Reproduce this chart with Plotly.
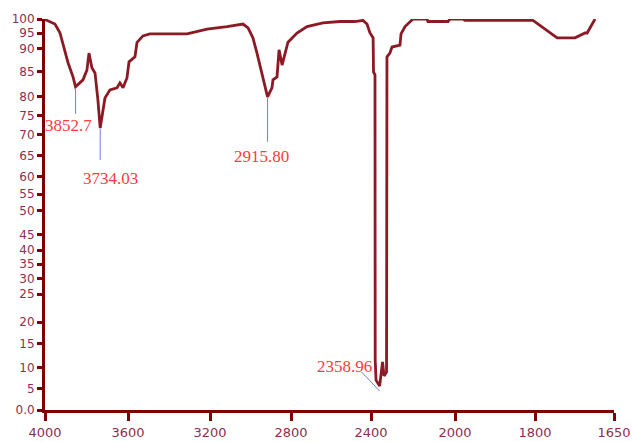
import numpy as np
import plotly.graph_objects as go

# FTIR transmittance spectrum
wavenumber = [4000, 3952, 3928, 3904, 3889, 3865, 3852.7, 3817, 3798, 3788, 3774, 3759, 3745,
              3734.03, 3720, 3711, 3687, 3653, 3639, 3624, 3605, 3595, 3566, 3556, 3527, 3493,
              3312, 3214, 3116, 3037, 3012, 2988, 2968, 2943, 2928, 2915.80, 2894, 2889, 2869,
              2859, 2844, 2830, 2815, 2770, 2720, 2640, 2555, 2480, 2440, 2420, 2405, 2390, 2388,
              2381, 2380, 2376, 2358.96, 2345, 2338, 2326, 2324, 2310, 2300, 2262, 2257, 2238,
              2200, 2133, 2129, 2033, 2024, 1980, 1975, 1805, 1790.5, 1775, 1758, 1724, 1715,
              1705, 1701, 1686]
transmittance = [99.8, 98.2, 95.1, 89.8, 87.0, 84.0, 82.0, 83.4, 85.4, 89.1, 85.9, 84.8, 79.2,
                 71.8, 76.6, 79.7, 81.4, 81.8, 82.8, 81.8, 83.8, 87.2, 88.3, 92.1, 94.1, 94.7,
                 94.7, 96.4, 97.3, 98.2, 96.8, 93.5, 89.1, 84.4, 81.8, 80.0, 81.8, 83.4, 84.0,
                 89.8, 86.5, 88.7, 92.1, 95.0, 97.3, 98.6, 99.1, 99.1, 99.5, 98.2, 95.0, 93.5, 85.0,
                 84.4, 11.7, 7.1, 5.7, 11.25, 8.1, 9.05, 88.3, 89.1, 90.6, 91.2, 94.7, 97.3,
                 100.0, 100.0, 99.1, 99.1, 100.0, 100.0, 99.5, 99.5, 97.7, 95.5, 93.5, 93.5, 94.1,
                 95.0, 95.0, 100.0]

# labelled absorption bands
peak_wn = [3852.7, 3734.03, 2915.80, 2358.96]
peak_text = ["3852.7", "3734.03", "2915.80", "2358.96"]

# axis tick labels
x_tick_labels = [4000, 3600, 3200, 2800, 2400, 2000, 1800, 1650]
y_tick_labels = [0, 5, 10, 15, 20, 25, 30, 35, 40, 45, 50, 55, 60, 65, 70, 75, 80, 85, 90, 95, 100]

# the instrument's display scale: where each tick sits along the axis
x_tick_pos = [0, 83, 165, 246, 326, 410, 490, 569]
y_tick_pos = [0, 5.4, 10.8, 17.0, 22.6, 29.8, 33.7, 37.5, 41.1, 45.0, 51.2, 55.5, 59.9,
              65.3, 70.7, 75.6, 80.5, 86.9, 92.8, 96.9, 100.5]


def to_x(wn):
    return np.interp(wn, x_tick_labels[::-1], x_tick_pos[::-1])


def to_y(v):
    return np.interp(v, y_tick_labels, y_tick_pos)


peak_val = np.interp(peak_wn, wavenumber[::-1], transmittance[::-1])

AXIS = "#7f0000"
TICKCOLOR = "#8b3050"
RED = "#ff3b3b"
BLUE = "#6d80dc"

fig = go.Figure()
fig.add_trace(go.Scatter(x=to_x(wavenumber), y=to_y(transmittance), mode="lines",
                         line=dict(color="#8b1a24", width=2.8), cliponaxis=False,
                         hoverinfo="skip", showlegend=False))

# leader lines (pixel offsets from each band minimum) and labels
leaders = [  # (dx0, dy0, dx1, dy1) in pixels, positive y upward
    (0, -1, 0, -27),
    (0, -1, 0, -32),
    (0, -1, 0, -45),
    (0, -5, -18, 14),
]
label_shift = [(-7, -39), (10, -50), (-6, -60), (-35, 20)]

for wn, val, txt, (dx0, dy0, dx1, dy1), (sx, sy) in zip(peak_wn, peak_val, peak_text, leaders, label_shift):
    px, py = float(to_x(wn)), float(to_y(val))
    fig.add_shape(type="line", xref="x", yref="y",
                  xsizemode="pixel", ysizemode="pixel", xanchor=px, yanchor=py,
                  x0=dx0, y0=dy0, x1=dx1, y1=dy1,
                  line=dict(color=BLUE, width=1))
    fig.add_annotation(x=px, y=py, text=txt, showarrow=False, xshift=sx, yshift=sy,
                       font=dict(family="Liberation Serif", size=17, color=RED))

fig.update_xaxes(range=[0, 569], tickmode="array", tickvals=x_tick_pos,
                 ticktext=[str(t) for t in x_tick_labels], showline=True, linecolor=AXIS,
                 linewidth=3, ticks="outside", ticklen=8, tickwidth=3, tickcolor=AXIS,
                 showgrid=False, zeroline=False, automargin=False,
                 tickfont=dict(family="DejaVu Sans", size=13, color=TICKCOLOR))
fig.update_yaxes(range=[0, 100.5], tickmode="array", tickvals=y_tick_pos,
                 ticktext=["0.0" if t == 0 else str(t) for t in y_tick_labels], showline=True,
                 linecolor=AXIS, linewidth=3, ticks="outside", ticklen=5, tickwidth=3,
                 tickcolor=AXIS, showgrid=False, zeroline=False, automargin=False,
                 tickfont=dict(family="DejaVu Sans", size=12, color=TICKCOLOR))

fig.update_layout(width=632, height=442, margin=dict(l=45, r=18, t=19, b=32),
                  plot_bgcolor="white", paper_bgcolor="white")

fig.write_html("out.html")
